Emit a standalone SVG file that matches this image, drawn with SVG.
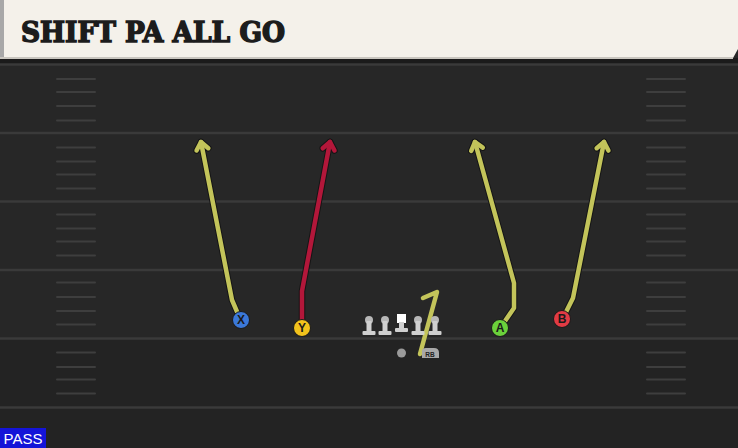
<svg xmlns="http://www.w3.org/2000/svg" width="738" height="448" viewBox="0 0 738 448">
<style>
.yl{stroke:#3a3a3a;stroke-width:2.5}
.hm{stroke:#3e3e3e;stroke-width:2;stroke-linecap:round}
.out{fill:none;stroke:#151515;stroke-width:6.5;stroke-linejoin:round;stroke-linecap:round}
.yel{fill:none;stroke:#c3c45a;stroke-width:4.5;stroke-linejoin:round;stroke-linecap:round}
.red{fill:none;stroke:#b3173a;stroke-width:4.5;stroke-linejoin:round;stroke-linecap:round}
.lbl{font-family:"Liberation Sans",Arial,sans-serif;font-weight:bold;font-size:12px;fill:#1a1a1a;text-anchor:middle}
</style>
<defs>
<marker id="aOut" markerUnits="userSpaceOnUse" markerWidth="20" markerHeight="20" refX="0" refY="0" viewBox="-10 -10 20 20" orient="auto" overflow="visible">
<path d="M-7.5,-6 L0,0 L-7.5,6" fill="none" stroke="#151515" stroke-width="6.5" stroke-linecap="round" stroke-linejoin="round"/>
</marker>
<marker id="aYel" markerUnits="userSpaceOnUse" markerWidth="20" markerHeight="20" refX="0" refY="0" viewBox="-10 -10 20 20" orient="auto" overflow="visible">
<path d="M-7.5,-6 L0,0 L-7.5,6" fill="none" stroke="#c3c45a" stroke-width="4.5" stroke-linecap="round" stroke-linejoin="round"/>
</marker>
<marker id="aRed" markerUnits="userSpaceOnUse" markerWidth="20" markerHeight="20" refX="0" refY="0" viewBox="-10 -10 20 20" orient="auto" overflow="visible">
<path d="M-7.5,-6 L0,0 L-7.5,6" fill="none" stroke="#b3173a" stroke-width="4.5" stroke-linecap="round" stroke-linejoin="round"/>
</marker>
<g id="lineman">
<circle cx="0" cy="-9" r="4" fill="#b8b8b8"/>
<rect x="-2.5" y="-8" width="5" height="11" fill="#d0d0d0"/>
<rect x="-6.5" y="2" width="13" height="4" rx="1" fill="#d0d0d0"/>
</g>
</defs>
<rect x="0" y="0" width="738" height="448" fill="#272727"/>
<rect x="0" y="340" width="738" height="108" fill="#1f1f1f" opacity="0.5"/>
<rect x="0" y="58" width="738" height="6" fill="#1b1b1b"/>
<g id="field">
<line class="yl" x1="0" y1="64.5" x2="738" y2="64.5"/>
<line class="yl" x1="0" y1="133" x2="738" y2="133"/>
<line class="yl" x1="0" y1="201.5" x2="738" y2="201.5"/>
<line class="yl" x1="0" y1="270" x2="738" y2="270"/>
<line class="yl" x1="0" y1="338.5" x2="738" y2="338.5"/>
<line class="yl" x1="0" y1="407.5" x2="738" y2="407.5"/>
<g id="hashL">
<line class="hm" x1="57" y1="79" x2="95" y2="79"/><line class="hm" x1="57" y1="92" x2="95" y2="92"/><line class="hm" x1="57" y1="106" x2="95" y2="106"/><line class="hm" x1="57" y1="120.5" x2="95" y2="120.5"/>
<line class="hm" x1="57" y1="147.5" x2="95" y2="147.5"/><line class="hm" x1="57" y1="161.5" x2="95" y2="161.5"/><line class="hm" x1="57" y1="174.5" x2="95" y2="174.5"/><line class="hm" x1="57" y1="188.5" x2="95" y2="188.5"/>
<line class="hm" x1="57" y1="214.5" x2="95" y2="214.5"/><line class="hm" x1="57" y1="228.5" x2="95" y2="228.5"/><line class="hm" x1="57" y1="241.5" x2="95" y2="241.5"/><line class="hm" x1="57" y1="255.5" x2="95" y2="255.5"/>
<line class="hm" x1="57" y1="282.5" x2="95" y2="282.5"/><line class="hm" x1="57" y1="297" x2="95" y2="297"/><line class="hm" x1="57" y1="311" x2="95" y2="311"/><line class="hm" x1="57" y1="324.5" x2="95" y2="324.5"/>
<line class="hm" x1="57" y1="352.5" x2="95" y2="352.5"/><line class="hm" x1="57" y1="367" x2="95" y2="367"/><line class="hm" x1="57" y1="379.5" x2="95" y2="379.5"/><line class="hm" x1="57" y1="393.5" x2="95" y2="393.5"/>
</g>
<use href="#hashL" x="590"/>
</g>
<g id="header">
<path d="M0,0 H738 V49 L733,58 H0 Z" fill="#f4f1ea"/>
<rect x="0" y="0" width="4" height="58" fill="#a8a8a8"/>
<rect x="0" y="57" width="733" height="2" fill="#c9c6bf"/>
<text x="21" y="42" font-family="'DejaVu Serif Condensed','DejaVu Serif',serif" font-weight="bold" font-size="28" fill="#1c1c1c" stroke="#1c1c1c" stroke-width="1.4" stroke-linejoin="miter" textLength="264" lengthAdjust="spacingAndGlyphs">SHIFT PA ALL GO</text>
</g>
<g id="connectors">
<path class="out" d="M238,314 L232,300 L201,142" marker-end="url(#aOut)"/>
<path class="yel" d="M238,314 L232,300 L201,142" marker-end="url(#aYel)"/>
<path class="out" d="M302,322 L302,291 L330,142" marker-end="url(#aOut)"/>
<path class="red" d="M302,322 L302,291 L330,142" marker-end="url(#aRed)"/>
<path class="out" d="M503,324 L514,308 L514,283 L475,142" marker-end="url(#aOut)"/>
<path class="yel" d="M503,324 L514,308 L514,283 L475,142" marker-end="url(#aYel)"/>
<path class="out" d="M565,314 L573,298 L604,142" marker-end="url(#aOut)"/>
<path class="yel" d="M565,314 L573,298 L604,142" marker-end="url(#aYel)"/>
<path class="yel" d="M420,354 L437,292 L423,298"/>
</g>
<g id="OL">
<use href="#lineman" x="369" y="329"/>
<use href="#lineman" x="385" y="329"/>
<g id="C">
<rect x="397" y="314" width="9" height="9" fill="#ffffff"/>
<rect x="399" y="322" width="5" height="7" fill="#d0d0d0"/>
<rect x="395" y="328" width="13" height="4" rx="1" fill="#d0d0d0"/>
</g>
<use href="#lineman" x="418" y="329"/>
<use href="#lineman" x="435" y="329"/>
</g>
<g id="QB"><circle cx="401.5" cy="353" r="4.5" fill="#9a9a9a"/></g>
<g id="RB">
<path d="M422,358 L422,351 Q422,348 426,348 L434,348 Q439,348 439,353 L439,358 Z" fill="#a8a8a8"/>
<text x="430" y="356.5" font-family="'Liberation Sans',Arial,sans-serif" font-weight="bold" font-size="6.5" fill="#222" text-anchor="middle">RB</text>
</g>
<g id="X"><circle cx="241" cy="320" r="8.5" fill="#3b78d8" stroke="#1a1a1a" stroke-width="1"/><text class="lbl" x="241" y="324.3">X</text></g>
<g id="Y"><circle cx="302" cy="328" r="8.5" fill="#f2c21c" stroke="#1a1a1a" stroke-width="1"/><text class="lbl" x="302" y="332.3">Y</text></g>
<g id="A"><circle cx="500" cy="328" r="8.5" fill="#6bd13b" stroke="#1a1a1a" stroke-width="1"/><text class="lbl" x="500" y="332.3">A</text></g>
<g id="B"><circle cx="562" cy="319" r="8.5" fill="#e23b44" stroke="#1a1a1a" stroke-width="1"/><text class="lbl" x="562" y="323.3">B</text></g>
<g id="pass">
<rect x="0" y="428" width="46" height="20" fill="#1414d8"/>
<text x="23" y="443.5" font-family="'Liberation Sans',Arial,sans-serif" font-size="15" fill="#ffffff" text-anchor="middle">PASS</text>
</g>
</svg>
